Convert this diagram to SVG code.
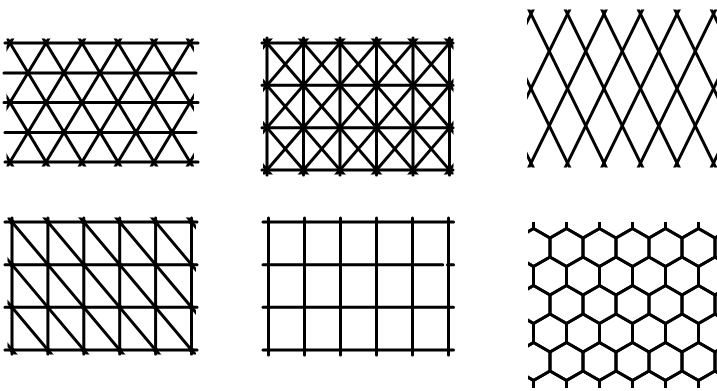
<svg xmlns="http://www.w3.org/2000/svg" xmlns:xlink="http://www.w3.org/1999/xlink" width="717" height="391" viewBox="0 0 717 391">
<style>
.ln{fill:none;stroke:#000;stroke-width:3;stroke-linecap:round;stroke-linejoin:round}
.dot{fill:#000}
</style>
<defs>
<clipPath id="c1"><rect x="6.5" y="38.5" width="187.5" height="128"/></clipPath>
<clipPath id="c2"><rect x="263" y="38.5" width="190.5" height="136"/></clipPath>
<clipPath id="c3"><rect x="527" y="9.5" width="190" height="158"/></clipPath>
<clipPath id="c4"><rect x="7.5" y="217.5" width="188.5" height="137"/></clipPath>
<clipPath id="c6"><rect x="528" y="222" width="189" height="166"/></clipPath>
<path id="hx" d="M0,-19 L16.5,-9.5 L16.5,9.5 L0,19 L-16.5,9.5 L-16.5,-9.5 Z"/>
<circle id="d1" r="2.4"/>
<circle id="d2" r="3.1"/>
<circle id="d4" r="2.5"/>
</defs>
<rect width="717" height="391" fill="#fff"/>

<g id="triangles">
<path class="ln" d="M5,43H198M4,73H196M4,102.5H198M5,132.5H196M5,162H198"/>
<g clip-path="url(#c1)">
<path class="ln" d="M-80,13.25L28,191.75M-44,13.25L64,191.75M-8,13.25L100,191.75M28,13.25L136,191.75M64,13.25L172,191.75M100,13.25L208,191.75M136,13.25L244,191.75M172,13.25L280,191.75"/>
<path class="ln" d="M28,13.25L-80,191.75M64,13.25L-44,191.75M100,13.25L-8,191.75M136,13.25L28,191.75M172,13.25L64,191.75M208,13.25L100,191.75M244,13.25L136,191.75M280,13.25L172,191.75"/>
</g>
<g class="dot">
<use href="#d1" x="10" y="43"/><use href="#d1" x="46" y="43"/><use href="#d1" x="82" y="43"/><use href="#d1" x="118" y="43"/><use href="#d1" x="154" y="43"/><use href="#d1" x="190" y="43"/>
<use href="#d1" x="28" y="73"/><use href="#d1" x="64" y="73"/><use href="#d1" x="100" y="73"/><use href="#d1" x="136" y="73"/><use href="#d1" x="172" y="73"/>
<use href="#d1" x="10" y="102.5"/><use href="#d1" x="46" y="102.5"/><use href="#d1" x="82" y="102.5"/><use href="#d1" x="118" y="102.5"/><use href="#d1" x="154" y="102.5"/><use href="#d1" x="190" y="102.5"/>
<use href="#d1" x="28" y="132.5"/><use href="#d1" x="64" y="132.5"/><use href="#d1" x="100" y="132.5"/><use href="#d1" x="136" y="132.5"/><use href="#d1" x="172" y="132.5"/>
<use href="#d1" x="10" y="162"/><use href="#d1" x="46" y="162"/><use href="#d1" x="82" y="162"/><use href="#d1" x="118" y="162"/><use href="#d1" x="154" y="162"/><use href="#d1" x="190" y="162"/>
</g>
</g>

<g id="crossed-squares">
<path class="ln" d="M262,43H453M262,85.33H453M262,127.67H453M262,170H453M267,38V175M303.5,38V175M340,38V175M376.5,38V175M413,38V175M449.5,38V175"/>
<g clip-path="url(#c2)">
<path class="ln" d="M121,0.67L303.5,212.33M157.5,0.67L340,212.33M194,0.67L376.5,212.33M230.5,0.67L413,212.33M267,0.67L449.5,212.33M303.5,0.67L486,212.33M340,0.67L522.5,212.33M376.5,0.67L559,212.33M413,0.67L595.5,212.33"/>
<path class="ln" d="M303.5,0.67L121,212.33M340,0.67L157.5,212.33M376.5,0.67L194,212.33M413,0.67L230.5,212.33M449.5,0.67L267,212.33M486,0.67L303.5,212.33M522.5,0.67L340,212.33M559,0.67L376.5,212.33M595.5,0.67L413,212.33"/>
</g>
<g class="dot">
<use href="#d2" x="267" y="43"/><use href="#d2" x="303.5" y="43"/><use href="#d2" x="340" y="43"/><use href="#d2" x="376.5" y="43"/><use href="#d2" x="413" y="43"/><use href="#d2" x="449.5" y="43"/>
<use href="#d2" x="267" y="85.33"/><use href="#d2" x="303.5" y="85.33"/><use href="#d2" x="340" y="85.33"/><use href="#d2" x="376.5" y="85.33"/><use href="#d2" x="413" y="85.33"/><use href="#d2" x="449.5" y="85.33"/>
<use href="#d2" x="267" y="127.67"/><use href="#d2" x="303.5" y="127.67"/><use href="#d2" x="340" y="127.67"/><use href="#d2" x="376.5" y="127.67"/><use href="#d2" x="413" y="127.67"/><use href="#d2" x="449.5" y="127.67"/>
<use href="#d2" x="267" y="170"/><use href="#d2" x="303.5" y="170"/><use href="#d2" x="340" y="170"/><use href="#d2" x="376.5" y="170"/><use href="#d2" x="413" y="170"/><use href="#d2" x="449.5" y="170"/>
</g>
</g>

<g id="diamonds" clip-path="url(#c3)">
<path class="ln" d="M439.75,-23.25L549.25,200.25M476.25,-23.25L585.75,200.25M512.75,-23.25L622.25,200.25M549.25,-23.25L658.75,200.25M585.75,-23.25L695.25,200.25M622.25,-23.25L731.75,200.25M658.75,-23.25L768.25,200.25M695.25,-23.25L804.75,200.25"/>
<path class="ln" d="M549.25,-23.25L439.75,200.25M585.75,-23.25L476.25,200.25M622.25,-23.25L512.75,200.25M658.75,-23.25L549.25,200.25M695.25,-23.25L585.75,200.25M731.75,-23.25L622.25,200.25M768.25,-23.25L658.75,200.25M804.75,-23.25L695.25,200.25"/>
</g>

<g id="split-squares">
<path class="ln" d="M5,222H197M5,264.67H197M5,307.33H197M5,350H197M12,218V354M47.9,218V354M83.8,218V354M119.7,218V354M155.6,218V354M191.5,218V354"/>
<g clip-path="url(#c4)">
<path class="ln" d="M-131.6,179.33L47.9,392.67M-95.7,179.33L83.8,392.67M-59.8,179.33L119.7,392.67M-23.9,179.33L155.6,392.67M12,179.33L191.5,392.67M47.9,179.33L227.4,392.67M83.8,179.33L263.3,392.67M119.7,179.33L299.2,392.67M155.6,179.33L335.1,392.67"/>
</g>
<g class="dot">
<use href="#d4" x="12" y="222"/><use href="#d4" x="47.9" y="222"/><use href="#d4" x="83.8" y="222"/><use href="#d4" x="119.7" y="222"/><use href="#d4" x="155.6" y="222"/><use href="#d4" x="191.5" y="222"/>
<use href="#d4" x="12" y="264.67"/><use href="#d4" x="47.9" y="264.67"/><use href="#d4" x="83.8" y="264.67"/><use href="#d4" x="119.7" y="264.67"/><use href="#d4" x="155.6" y="264.67"/><use href="#d4" x="191.5" y="264.67"/>
<use href="#d4" x="12" y="307.33"/><use href="#d4" x="47.9" y="307.33"/><use href="#d4" x="83.8" y="307.33"/><use href="#d4" x="119.7" y="307.33"/><use href="#d4" x="155.6" y="307.33"/><use href="#d4" x="191.5" y="307.33"/>
<use href="#d4" x="12" y="350"/><use href="#d4" x="47.9" y="350"/><use href="#d4" x="83.8" y="350"/><use href="#d4" x="119.7" y="350"/><use href="#d4" x="155.6" y="350"/><use href="#d4" x="191.5" y="350"/>
</g>
</g>

<g id="squares">
<path class="ln" d="M263,222H453.5M263,264.67H442.7M447.5,264.67H453.5M263,307.33H453.5M263,350H453.5M268.5,218V355M304.5,218V355M340.5,218V355M376.5,218V355M412.5,218V355M448.5,218V355"/>
</g>

<g id="hexagons" clip-path="url(#c6)">
<g class="ln">
<use href="#hx" x="517" y="219"/><use href="#hx" x="550" y="219"/><use href="#hx" x="583" y="219"/><use href="#hx" x="616" y="219"/><use href="#hx" x="649" y="219"/><use href="#hx" x="682" y="219"/><use href="#hx" x="715" y="219"/>
<use href="#hx" x="533.5" y="247.5"/><use href="#hx" x="566.5" y="247.5"/><use href="#hx" x="599.5" y="247.5"/><use href="#hx" x="632.5" y="247.5"/><use href="#hx" x="665.5" y="247.5"/><use href="#hx" x="698.5" y="247.5"/><use href="#hx" x="731.5" y="247.5"/>
<use href="#hx" x="517" y="276"/><use href="#hx" x="550" y="276"/><use href="#hx" x="583" y="276"/><use href="#hx" x="616" y="276"/><use href="#hx" x="649" y="276"/><use href="#hx" x="682" y="276"/><use href="#hx" x="715" y="276"/>
<use href="#hx" x="533.5" y="304.5"/><use href="#hx" x="566.5" y="304.5"/><use href="#hx" x="599.5" y="304.5"/><use href="#hx" x="632.5" y="304.5"/><use href="#hx" x="665.5" y="304.5"/><use href="#hx" x="698.5" y="304.5"/><use href="#hx" x="731.5" y="304.5"/>
<use href="#hx" x="517" y="333"/><use href="#hx" x="550" y="333"/><use href="#hx" x="583" y="333"/><use href="#hx" x="616" y="333"/><use href="#hx" x="649" y="333"/><use href="#hx" x="682" y="333"/><use href="#hx" x="715" y="333"/>
<use href="#hx" x="533.5" y="361.5"/><use href="#hx" x="566.5" y="361.5"/><use href="#hx" x="599.5" y="361.5"/><use href="#hx" x="632.5" y="361.5"/><use href="#hx" x="665.5" y="361.5"/><use href="#hx" x="698.5" y="361.5"/><use href="#hx" x="731.5" y="361.5"/>
<use href="#hx" x="517" y="390"/><use href="#hx" x="550" y="390"/><use href="#hx" x="583" y="390"/><use href="#hx" x="616" y="390"/><use href="#hx" x="649" y="390"/><use href="#hx" x="682" y="390"/><use href="#hx" x="715" y="390"/>
</g>
</g>
</svg>
